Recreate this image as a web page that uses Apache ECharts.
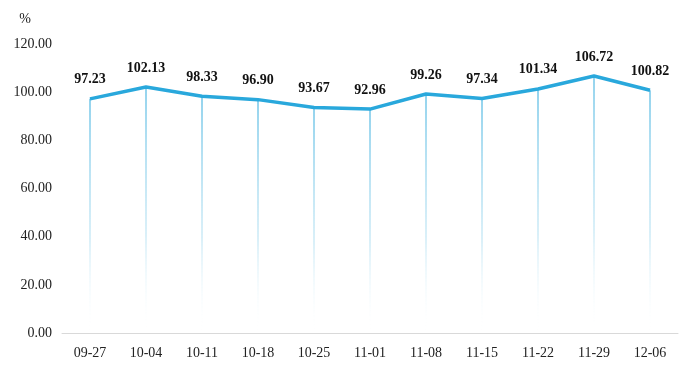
<!DOCTYPE html>
<html><head><meta charset="utf-8">
<script src="https://cdn.jsdelivr.net/npm/echarts@6/dist/echarts.min.js"></script>
<style>html,body{margin:0;padding:0;background:#fff}#c{width:690px;height:371px}</style>
</head><body><div id="c"></div>
<script>
var categories = ['09-27','10-04','10-11','10-18','10-25','11-01','11-08','11-15','11-22','11-29','12-06'];
var values = [97.23,102.13,98.33,96.90,93.67,92.96,99.26,97.34,101.34,106.72,100.82];
var yTicks = {min:0, max:120, interval:20};
var unit = '%';

var chart = echarts.init(document.getElementById('c'));
var font = '"Liberation Serif","Times New Roman",serif';
chart.setOption({
  animation:false,
  grid:{left:62,right:12,top:44,bottom:38},
  xAxis:{type:'category',data:categories,boundaryGap:true,
    axisLine:{lineStyle:{color:'#d9d9d9'}},axisTick:{show:false},
    axisLabel:{color:'#222',fontFamily:font,fontSize:14,margin:13}},
  yAxis:{type:'value',min:yTicks.min,max:yTicks.max,interval:yTicks.interval,
    name:unit,nameLocation:'end',nameGap:18,
    nameTextStyle:{color:'#222',fontFamily:font,fontSize:14,align:'right',padding:[0,31,0,0]},
    axisLine:{show:false},axisTick:{show:false},splitLine:{show:false},
    axisLabel:{color:'#222',fontFamily:font,fontSize:14,margin:10,formatter:function(v){return v.toFixed(2);}}},
  series:[
    {type:'bar',data:values,barWidth:1,silent:true,
      itemStyle:{color:new echarts.graphic.LinearGradient(0,0,0,1,[{offset:0,color:'rgba(41,168,220,1)'},{offset:0.6,color:'rgba(120,200,232,0.55)'},{offset:1,color:'rgba(255,255,255,0)'}])}},
    {type:'line',data:values,symbol:'circle',symbolSize:0.1,showSymbol:true,
      itemStyle:{color:'#29a8dc'},
      lineStyle:{color:'#29a8dc',width:3.5},
      label:{show:true,position:'top',distance:12,color:'#111',fontFamily:font,fontSize:14,fontWeight:'bold',
        formatter:function(p){return p.value.toFixed(2);}}}
  ]
});
</script></body></html>
